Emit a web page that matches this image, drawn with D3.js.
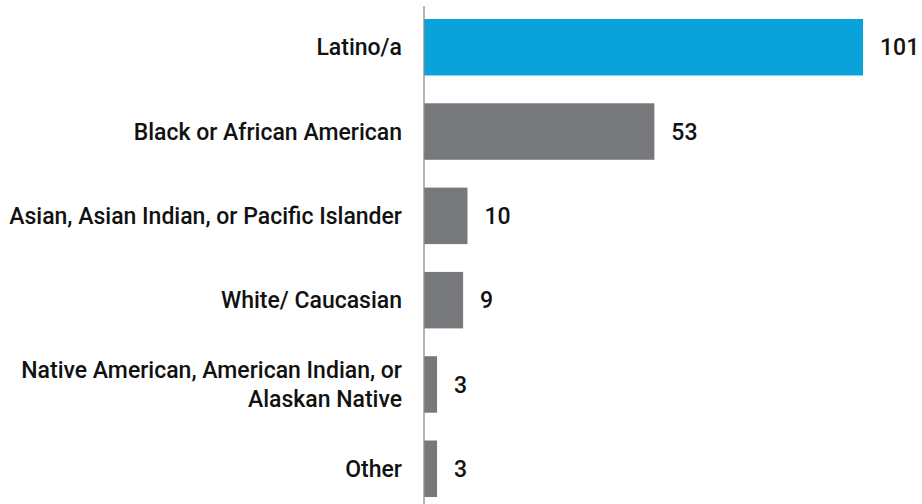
<!DOCTYPE html>
<html>
<head>
<meta charset="utf-8">
<script src="https://cdn.jsdelivr.net/npm/d3@7"></script>
<style>
  html, body { margin: 0; padding: 0; background: #fff; }
  svg { display: block; }
  text { font-family: Roboto, "Liberation Sans", Arial, sans-serif; }
</style>
</head>
<body>
<svg id="chart" width="922" height="504"></svg>
<script>
// Respondents by race / ethnicity
const categories = [
  "Latino/a",
  "Black or African American",
  "Asian, Asian Indian, or Pacific Islander",
  "White/ Caucasian",
  "Native American, American Indian, or\nAlaskan Native",
  "Other"
];
const counts = [101, 53, 10, 9, 3, 3];
const highlight = ["Latino/a"];

const data = categories.map((c, i) => ({ label: c, value: counts[i] }));

const width = 922, height = 504;
const axisX = 424;

const svg = d3.select("#chart");

const x = d3.scaleLinear()
  .domain([0, d3.max(counts)])
  .range([axisX, 863]);

const y = d3.scaleBand()
  .domain(categories)
  .range([19, 497])
  .paddingInner(0.33)
  .paddingOuter(0);

// bars
svg.append("g")
  .selectAll("rect")
  .data(data)
  .join("rect")
  .attr("x", x(0))
  .attr("y", d => y(d.label))
  .attr("width", d => x(d.value) - x(0))
  .attr("height", y.bandwidth())
  .attr("fill", d => highlight.includes(d.label) ? "#0aa2da" : "#77787b");

// category axis line
svg.append("line")
  .attr("x1", axisX).attr("x2", axisX)
  .attr("y1", 6).attr("y2", height)
  .attr("stroke", "#8c8c8c")
  .attr("stroke-width", 1.3);

// category labels
const lineH = 29;
svg.append("g")
  .selectAll("text")
  .data(data)
  .join("text")
  .attr("text-anchor", "end")
  .attr("font-size", 23)
  .attr("font-weight", 500)
  .attr("fill", "#111")
  .each(function(d) {
    const lines = d.label.split("\n");
    const cy = y(d.label) + y.bandwidth() / 2;
    const t = d3.select(this);
    lines.forEach((ln, i) => {
      t.append("tspan")
        .attr("x", axisX - 22)
        .attr("y", cy + (i - (lines.length - 1) / 2) * lineH)
        .attr("dy", "0.35em")
        .text(ln);
    });
  });

// value labels
svg.append("g")
  .selectAll("text")
  .data(data)
  .join("text")
  .attr("x", d => x(d.value) + 17)
  .attr("y", d => y(d.label) + y.bandwidth() / 2)
  .attr("dy", "0.35em")
  .attr("font-size", 23)
  .attr("font-weight", 500)
  .attr("fill", "#111")
  .text(d => d.value);
</script>
</body>
</html>
